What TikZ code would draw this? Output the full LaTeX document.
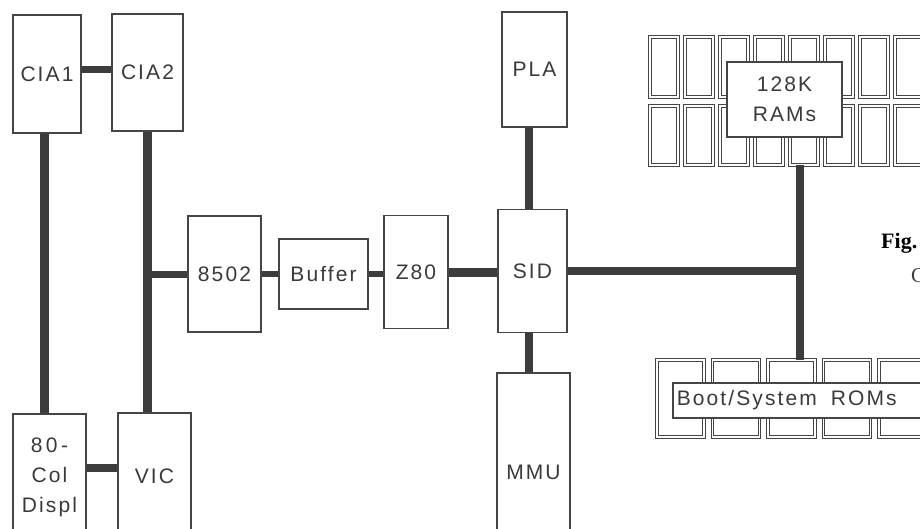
\documentclass[tikz,border=0pt]{standalone}
\usepackage{fontspec}
\setmainfont{Liberation Sans}[LetterSpace=10]
\newfontfamily\figfont{Liberation Serif}
\definecolor{boxc}{HTML}{454545}
\definecolor{busc}{HTML}{3C3C3C}
\definecolor{txtc}{HTML}{3A3A3A}
\newcommand{\lblsize}{\fontsize{21}{30}\selectfont}
\begin{document}
\begin{tikzpicture}[x=1pt,y=-1pt,
  box/.style={draw=boxc, line width=1.6pt, fill=white, inner sep=0pt, text=txtc, font=\lblsize, align=center},
  bus/.style={draw=busc, line width=8pt},
  chip/.style={draw=boxc, line width=1pt, double=white, double distance=1.5pt},
]
\useasboundingbox (0,0) rectangle (920,529);
\clip (0,0) rectangle (920,529);

% memory chips
\foreach \i in {0,...,7} {
  \draw[chip] (650+35*\i,37) rectangle ++(28,60);
  \draw[chip] (650+35*\i,106) rectangle ++(28,59);
}
\foreach \i in {0,...,4} {
  \draw[chip] (657+55.5*\i,360) rectangle ++(47,77);
}

% boxes
\node[box, minimum width=68pt, minimum height=118pt] (cia1) at (47,74) {CIA1};
\node[box, minimum width=71pt, minimum height=117pt] (cia2) at (147.5,72.5) {CIA2};
\node[box, minimum width=73pt, minimum height=116pt] (cpu) at (224.5,274) {8502};
\node[box, minimum width=89pt, minimum height=70pt] (buf) at (323.5,274) {Buffer};
\node[box, minimum width=64pt, minimum height=113pt] (z80) at (416,272) {Z80};
\node[box, minimum width=69pt, minimum height=123pt] (sid) at (532.5,271) {SID};
\node[box, minimum width=65pt, minimum height=115pt] (pla) at (534.5,69.5) {PLA};
\node[box, minimum width=73pt, minimum height=198pt] (mmu) at (533.5,472) {MMU};
\node[box, minimum width=73pt, minimum height=126pt] (col) at (49.5,477) {8\,0\,-\\Col\\Displ};
\node[box, minimum width=73pt, minimum height=127pt] (vic) at (154.5,476.5) {VIC};
\node[box, minimum width=115pt, minimum height=75pt] (ram) at (784.5,99.5) {128K\\RAMs};
\node[box, anchor=west, minimum height=35pt, text width=252pt, inner xsep=4pt, align=left] (rom) at (672,400.5) {Boot/System\ \ ROMs};

% junction points
\coordinate (j2) at (147,274);
\coordinate (ramb) at (800,165);
\coordinate (romt) at (800,360);
\coordinate (j) at (800,271);

% buses
\draw[bus, line width=7pt] (cia1.east |- 0,70) -- (cia2.west |- 0,70);
\draw[bus, line width=9pt] (cia1.south -| 44,0) -- (col.north -| 44,0);
\draw[bus, line width=9pt] (cia2.south -| 147,0) -- (vic.north -| 147,0);
\draw[bus, line width=7pt] (j2) -- (cpu.west);
\draw[bus, line width=6pt] (cpu.east) -- (buf.west);
\draw[bus, line width=6pt] (buf.east) -- (z80.west |- buf.east);
\draw[bus, line width=9pt] (z80.east) -- (sid.west |- z80.east);
\draw[bus] (pla.south -| 529,0) -- (sid.north -| 529,0);
\draw[bus] (sid.south -| 529,0) -- (mmu.north -| 529,0);
\draw[bus] (col.east |- 0,468) -- (vic.west |- 0,468);
\draw[bus] (sid.east) -- (j);
\draw[bus] (ramb) -- (romt);

% caption fragment
\node[font=\figfont\bfseries\fontsize{22}{26}\selectfont, anchor=base west, text=black, inner sep=0pt] (fig) at (881,248) {Fig.};
\node[font=\figfont\fontsize{21}{24}\selectfont, anchor=base west, text=txtc, inner sep=0pt] (figc) at (911,282) {C};
\end{tikzpicture}
\end{document}
